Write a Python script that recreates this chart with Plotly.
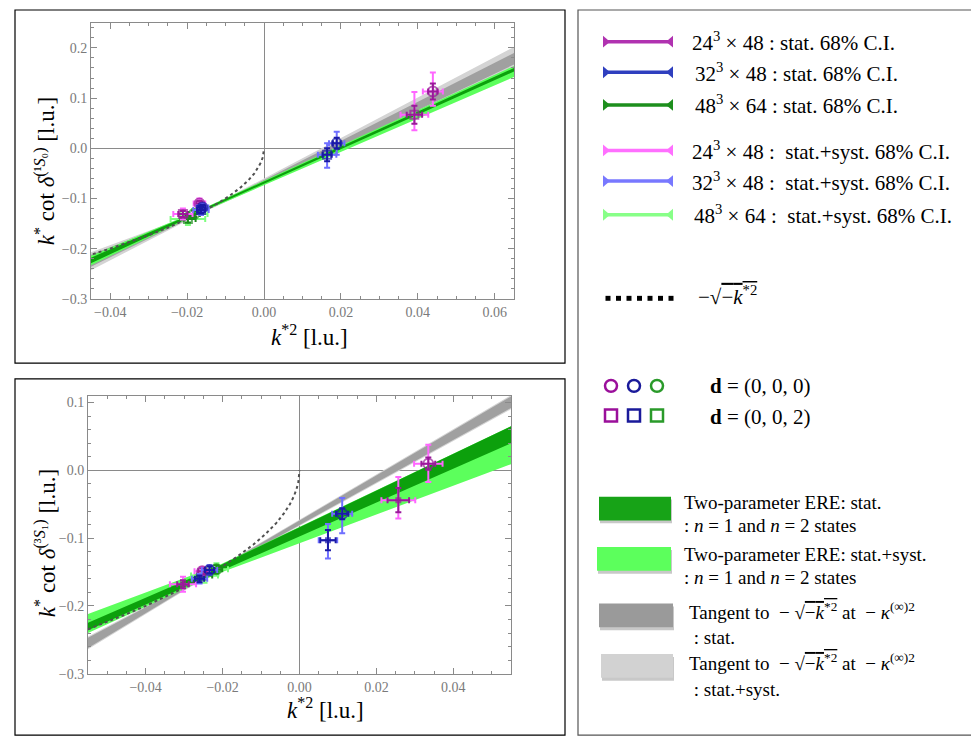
import plotly.graph_objects as go

W, H = 979, 738
SERIF = "Liberation Serif"

# ---------------- data : top panel (1S0) ----------------
t24_x = [-0.0168, -0.0211, 0.0391, 0.0439]
t24_y = [-0.110, -0.131, 0.067, 0.113]
t24_sym = ["circle", "square", "square", "circle"]
t24_exs = [0.0008, 0.0012, 0.0020, 0.0012]
t24_exy = [0.0015, 0.0025, 0.0036, 0.0026]
t24_eys = [0.005, 0.006, 0.018, 0.016]
t24_eyp = [0.010, 0.011, 0.045, 0.038]
t24_eym = [0.010, 0.011, 0.031, 0.028]

t32_x = [-0.0160, -0.0164, 0.0164, 0.0189]
t32_y = [-0.118, -0.123, -0.013, 0.010]
t32_sym = ["circle", "square", "square", "circle"]
t32_exs = [0.0008, 0.0010, 0.0012, 0.0010]
t32_exy = [0.0015, 0.0020, 0.0024, 0.0020]
t32_eys = [0.005, 0.006, 0.013, 0.011]
t32_eyp = [0.008, 0.010, 0.023, 0.023]
t32_eym = [0.008, 0.010, 0.026, 0.023]

t48_x = [-0.0198, -0.0182]
t48_y = [-0.141, -0.131]
t48_sym = ["square", "circle"]
t48_exs = [0.0020, 0.0015]
t48_exy = [0.0045, 0.0035]
t48_eys = [0.007, 0.006]
t48_eyp = [0.012, 0.010]
t48_eym = [0.012, 0.010]

# bands (x at left edge, pinch, right edge)
tb_x = [-0.045, -0.0164, 0.065]
tb_lgray_up = [-0.207, -0.126, 0.202]
tb_lgray_lo = [-0.243, -0.130, 0.160]
tb_dgray_up = [-0.212, -0.127, 0.190]
tb_dgray_lo = [-0.236, -0.129, 0.167]
tg_x = [-0.045, -0.017, 0.065]
tb_lgreen_up = [-0.214, -0.124, 0.164]
tb_lgreen_lo = [-0.233, -0.130, 0.142]
tb_dgreen_up = [-0.218, -0.125, 0.160]
tb_dgreen_lo = [-0.229, -0.129, 0.153]

# ---------------- data : bottom panel (3S1) ----------------
b24_x = [0.0335, 0.0257, -0.0303, -0.0253]
b24_y = [0.0098, -0.044, -0.168, -0.149]
b24_sym = ["circle", "square", "square", "circle"]
b24_exs = [0.0018, 0.0028, 0.0015, 0.0010]
b24_exy = [0.0037, 0.0044, 0.0034, 0.0020]
b24_eys = [0.009, 0.018, 0.006, 0.004]
b24_eyp = [0.028, 0.034, 0.011, 0.006]
b24_eym = [0.027, 0.027, 0.011, 0.006]

b32_x = [0.0111, 0.0074, -0.0260, -0.0234]
b32_y = [-0.064, -0.103, -0.160, -0.147]
b32_sym = ["circle", "square", "square", "circle"]
b32_exs = [0.0016, 0.0020, 0.0012, 0.0012]
b32_exy = [0.0026, 0.0024, 0.0020, 0.0020]
b32_eys = [0.008, 0.015, 0.005, 0.005]
b32_eyp = [0.023, 0.024, 0.007, 0.007]
b32_eym = [0.029, 0.027, 0.007, 0.007]

b48_x = [-0.0247, -0.0216]
b48_y = [-0.155, -0.146]
b48_sym = ["square", "circle"]
b48_exs = [0.0020, 0.0015]
b48_exy = [0.0035, 0.0030]
b48_eys = [0.006, 0.006]
b48_eyp = [0.011, 0.009]
b48_eym = [0.011, 0.009]

bb_x = [-0.055, -0.024, 0.055]
bb_lgray_up = [-0.245, -0.153, 0.111]
bb_lgray_lo = [-0.264, -0.157, 0.090]
bb_dgray_up = [-0.247, -0.154, 0.109]
bb_dgray_lo = [-0.262, -0.156, 0.092]
bg_x = [-0.055, -0.021, 0.055]
bb_lgreen_up = [-0.212, -0.140, 0.065]
bb_lgreen_lo = [-0.240, -0.152, 0.009]
bb_dgreen_up = [-0.225, -0.141, 0.065]
bb_dgreen_lo = [-0.236, -0.150, 0.040]

# -sqrt(-k^2) curve, values read/tabulated
curve_x = [-0.055, -0.05, -0.045, -0.04, -0.035, -0.03, -0.025, -0.02, -0.016, -0.012,
           -0.009, -0.006, -0.004, -0.0025, -0.0015, -0.0008, -0.0003, 0.0]
curve_y = [-0.2345, -0.2236, -0.2121, -0.2000, -0.1871, -0.1732, -0.1581, -0.1414, -0.1265,
           -0.1095, -0.0949, -0.0775, -0.0632, -0.0500, -0.0387, -0.0283, -0.0173, 0.0]

# ---------------- colours ----------------
C24, C24L = "#9a1a9a", "#ff66ff"
C32, C32L = "#1a1aa6", "#6f6fff"
C48, C48L = "#1a8c1a", "#7dff7d"
DGREEN, LGREEN = "#0ca00c", "#5cff5c"
DGRAY, LGRAY = "#a0a0a0", "#d4d4d4"

fig = go.Figure()


def band(xs, up, lo, color, xa, ya):
    fig.add_trace(go.Scatter(x=xs + xs[::-1], y=up + lo[::-1], fill="toself",
                             fillcolor=color, line=dict(width=0), mode="lines",
                             hoverinfo="skip", showlegend=False, xaxis=xa, yaxis=ya))


def points(xs, ys, sym, exs, exy, eys, eyp, eym, cd, cl, xa, ya, sq_size=8):
    sizes = [10 if s == "circle" else sq_size for s in sym]
    fig.add_trace(go.Scatter(
        x=xs, y=ys, mode="markers", marker=dict(size=0.1, color=cl),
        error_x=dict(type="data", array=exy, color=cl, thickness=2, width=3),
        error_y=dict(type="data", array=eyp, arrayminus=eym, color=cl, thickness=2, width=3),
        showlegend=False, xaxis=xa, yaxis=ya))
    fig.add_trace(go.Scatter(
        x=xs, y=ys, mode="markers",
        marker=dict(symbol=[s + "-open" for s in sym], size=sizes, color=cd, line=dict(width=2)),
        error_x=dict(type="data", array=exs, color=cd, thickness=2, width=3),
        error_y=dict(type="data", array=eys, color=cd, thickness=2, width=3),
        showlegend=False, xaxis=xa, yaxis=ya))


for xa, ya, bx, gx, lg_u, lg_l, dg_u, dg_l, lgr_u, lgr_l, dgr_u, dgr_l in [
    ("x", "y", tb_x, tg_x, tb_lgray_up, tb_lgray_lo, tb_dgray_up, tb_dgray_lo,
     tb_lgreen_up, tb_lgreen_lo, tb_dgreen_up, tb_dgreen_lo),
    ("x2", "y2", bb_x, bg_x, bb_lgray_up, bb_lgray_lo, bb_dgray_up, bb_dgray_lo,
     bb_lgreen_up, bb_lgreen_lo, bb_dgreen_up, bb_dgreen_lo)]:
    band(bx, lg_u, lg_l, LGRAY, xa, ya)
    band(bx, dg_u, dg_l, DGRAY, xa, ya)
    band(gx, lgr_u, lgr_l, LGREEN, xa, ya)
    band(gx, dgr_u, dgr_l, DGREEN, xa, ya)
    fig.add_trace(go.Scatter(x=curve_x, y=curve_y, mode="lines",
                             line=dict(color="#505050", width=2, dash="dot"),
                             showlegend=False, xaxis=xa, yaxis=ya))

points(t48_x, t48_y, t48_sym, t48_exs, t48_exy, t48_eys, t48_eyp, t48_eym, C48, C48L, "x", "y")
points(t24_x, t24_y, t24_sym, t24_exs, t24_exy, t24_eys, t24_eyp, t24_eym, C24, C24L, "x", "y")
points(t32_x, t32_y, t32_sym, t32_exs, t32_exy, t32_eys, t32_eyp, t32_eym, C32, C32L, "x", "y")
points(b48_x, b48_y, b48_sym, b48_exs, b48_exy, b48_eys, b48_eyp, b48_eym, C48, C48L, "x2", "y2", 5)
points(b24_x, b24_y, b24_sym, b24_exs, b24_exy, b24_eys, b24_eyp, b24_eym, C24, C24L, "x2", "y2", 4)
points(b32_x, b32_y, b32_sym, b32_exs, b32_exy, b32_eys, b32_eyp, b32_eym, C32, C32L, "x2", "y2", 4)


def X(px):
    return px / W


def Y(py):
    return 1 - py / H


tickfont = dict(family=SERIF, size=14, color="#7a7a7a")
common_ax = dict(showgrid=False, showline=True, linecolor="#8a8a8a", linewidth=1, mirror="allticks",
                 ticks="inside", ticklen=6, tickcolor="#8a8a8a", tickfont=tickfont,
                 zeroline=True, zerolinecolor="#8a8a8a", zerolinewidth=1, layer="above traces")

fig.update_layout(
    width=W, height=H, margin=dict(l=0, r=0, t=0, b=0),
    paper_bgcolor="white", plot_bgcolor="white", showlegend=False,
    xaxis=dict(domain=[X(83), X(506)], range=[-0.045, 0.065], anchor="y",
               tickvals=[-0.04, -0.02, 0.0, 0.02, 0.04, 0.06], tickformat=".2f",
               minor=dict(dtick=0.005, ticklen=3, ticks="inside", tickcolor="#8a8a8a"), **common_ax),
    yaxis=dict(domain=[Y(294), Y(15)], range=[-0.3, 0.25], anchor="x",
               tickvals=[-0.3, -0.2, -0.1, 0.0, 0.1, 0.2], tickformat=".1f",
               minor=dict(dtick=0.02, ticklen=3, ticks="inside", tickcolor="#8a8a8a"), **common_ax),
    xaxis2=dict(domain=[X(80), X(503)], range=[-0.055, 0.055], anchor="y2",
                tickvals=[-0.04, -0.02, 0.0, 0.02, 0.04], tickformat=".2f",
                minor=dict(dtick=0.005, ticklen=3, ticks="inside", tickcolor="#8a8a8a"), **common_ax),
    yaxis2=dict(domain=[Y(673), Y(392)], range=[-0.3, 0.11], anchor="x2",
                tickvals=[-0.3, -0.2, -0.1, 0.0, 0.1], tickformat=".1f",
                minor=dict(dtick=0.02, ticklen=3, ticks="inside", tickcolor="#8a8a8a"), **common_ax),
)

shapes = []
ann = []
# outer boxes
shapes.append(dict(type="rect", xref="paper", yref="paper", x0=X(7), x1=X(557), y0=Y(359), y1=Y(2),
                   line=dict(color="black", width=1.2)))
shapes.append(dict(type="rect", xref="paper", yref="paper", x0=X(7), x1=X(557), y0=Y(735), y1=Y(375),
                   line=dict(color="black", width=1.2)))
shapes.append(dict(type="rect", xref="paper", yref="paper", x0=X(570), x1=X(977), y0=Y(735), y1=Y(2),
                   line=dict(color="#555555", width=1.2)))

lab = dict(family=SERIF, size=23, color="black")
xlabel = "<i>k</i><sup>*2</sup> [l.u.]"
ann.append(dict(x=X(301), y=Y(331), xref="paper", yref="paper", text=xlabel, showarrow=False, font=lab,
                xanchor="center", yanchor="middle"))
ann.append(dict(x=X(317), y=Y(708), xref="paper", yref="paper", text=xlabel, showarrow=False, font=lab,
                xanchor="center", yanchor="middle"))
ann.append(dict(x=X(37), y=Y(165), xref="paper", yref="paper", textangle=-90, showarrow=False, font=lab,
                xanchor="center", yanchor="middle",
                text="<i>k</i><sup>*</sup> cot <i>δ</i><sup>(¹<i>S</i>₀)</sup> [l.u.]"))
ann.append(dict(x=X(37), y=Y(541), xref="paper", yref="paper", textangle=-90, showarrow=False, font=lab,
                xanchor="center", yanchor="middle",
                text="<i>k</i><sup>*</sup> cot <i>δ</i><sup>(³<i>S</i>₁)</sup> [l.u.]"))

# ---------- legend ----------
leg_font = dict(family=SERIF, size=21, color="black")
sw_font = dict(family=SERIF, size=19, color="black")
leg_rows = [
    (34, "#b032b0", "24<sup>3</sup> × 48 : stat. 68% C.I.", 682),
    (65, "#2f3fbf", "32<sup>3</sup> × 48 : stat. 68% C.I.", 685),
    (98, "#1d8f1d", "48<sup>3</sup> × 64 : stat. 68% C.I.", 685),
    (144, "#ff70ff", "24<sup>3</sup> × 48 :  stat.+syst. 68% C.I.", 682),
    (175, "#7878ff", "32<sup>3</sup> × 48 :  stat.+syst. 68% C.I.", 682),
    (209, "#88ff88", "48<sup>3</sup> × 64 :  stat.+syst. 68% C.I.", 684),
]
for py, col, txt, tx in leg_rows:
    x0, x1 = 595, 665
    shapes.append(dict(type="line", xref="paper", yref="paper", x0=X(x0), x1=X(x1), y0=Y(py), y1=Y(py),
                       line=dict(color=col, width=3.5)))
    shapes.append(dict(type="path", xref="paper", yref="paper", fillcolor=col, line=dict(width=0),
                       path=f"M {X(x0)} {Y(py-6)} L {X(x0)} {Y(py+6)} L {X(x0+7)} {Y(py)} Z"))
    shapes.append(dict(type="path", xref="paper", yref="paper", fillcolor=col, line=dict(width=0),
                       path=f"M {X(x1)} {Y(py-6)} L {X(x1)} {Y(py+6)} L {X(x1-7)} {Y(py)} Z"))
    ann.append(dict(x=X(tx), y=Y(py), xref="paper", yref="paper", text=txt, showarrow=False,
                    xanchor="left", yanchor="middle", font=leg_font))

sqrt_txt = "−√<span style='text-decoration:overline'>−<i>k</i><sup>*2</sup></span>"
for i in range(7):
    cx = 600 + i * 10.5
    shapes.append(dict(type="rect", xref="paper", yref="paper", x0=X(cx - 2.5), x1=X(cx + 2.5),
                       y0=Y(296), y1=Y(291), fillcolor="black", line=dict(width=0)))
ann.append(dict(x=X(688), y=Y(291), xref="paper", yref="paper", text=sqrt_txt, showarrow=False,
                xanchor="left", yanchor="middle", font=leg_font))

for cx, col in [(603, "#9a0f9a"), (626, "#1a1a9a"), (649, "#2a9a2a")]:
    shapes.append(dict(type="circle", xref="paper", yref="paper", x0=X(cx - 6), x1=X(cx + 6),
                       y0=Y(388), y1=Y(376), line=dict(color=col, width=2.5)))
    shapes.append(dict(type="rect", xref="paper", yref="paper", x0=X(cx - 6), x1=X(cx + 6),
                       y0=Y(418), y1=Y(406), line=dict(color=col, width=2.5)))
ann.append(dict(x=X(700), y=Y(382), xref="paper", yref="paper", text="<b>d</b> = (0, 0, 0)",
                showarrow=False, xanchor="left", yanchor="middle", font=leg_font))
ann.append(dict(x=X(700), y=Y(413), xref="paper", yref="paper", text="<b>d</b> = (0, 0, 2)",
                showarrow=False, xanchor="left", yanchor="middle", font=leg_font))

tangent = "Tangent to  − √<span style='text-decoration:overline'>−<i>k</i><sup>*2</sup></span> at  − <i>κ</i><sup>(∞)2</sup>"
swatches = [
    (494, 518, 591, 663, "#17a317", "Two-parameter ERE: stat.", ": <i>n</i> = 1 and <i>n</i> = 2 states", 675, 500, 523),
    (545, 569, 589, 663, "#5cff5c", "Two-parameter ERE: stat.+syst.", ": <i>n</i> = 1 and <i>n</i> = 2 states", 675, 552, 576),
    (602, 626, 591, 665, "#9a9a9a", tangent, " : stat.", 680, 610, 636),
    (653, 677, 593, 665, "#d2d2d2", tangent, " : stat.+syst.", 680, 661, 689),
]
for y0, y1, x0, x1, col, t1, t2, tx, ty1, ty2 in swatches:
    shapes.append(dict(type="rect", xref="paper", yref="paper", x0=X(x0 + 1), x1=X(x1 + 1),
                       y0=Y(y1 + 3), y1=Y(y0 + 3), fillcolor="#c8c8c8", line=dict(width=0)))
    shapes.append(dict(type="rect", xref="paper", yref="paper", x0=X(x0), x1=X(x1),
                       y0=Y(y1), y1=Y(y0), fillcolor=col, line=dict(width=0)))
    ann.append(dict(x=X(tx), y=Y(ty1), xref="paper", yref="paper", text=t1, showarrow=False,
                    xanchor="left", yanchor="middle", font=sw_font, borderpad=0))
    ann.append(dict(x=X(tx), y=Y(ty2), xref="paper", yref="paper", text=t2, showarrow=False,
                    xanchor="left", yanchor="middle", font=sw_font, borderpad=0))

fig.update_layout(shapes=shapes, annotations=ann)
fig.write_html("out.html")
